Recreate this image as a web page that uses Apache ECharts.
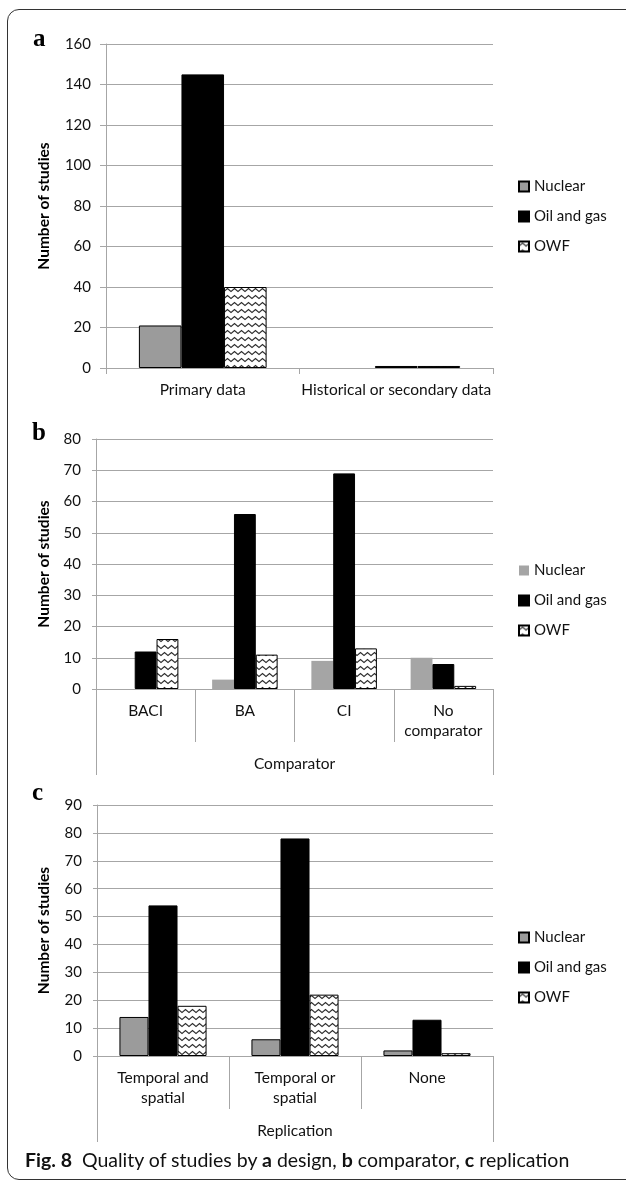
<!DOCTYPE html>
<html>
<head>
<meta charset="utf-8">
<script src="https://cdn.jsdelivr.net/npm/echarts@6/dist/echarts.min.js"></script>
<style>
html,body{margin:0;padding:0;background:#fff;width:626px;height:1181px;overflow:hidden;}
.frame{position:absolute;left:7px;top:9px;width:640px;height:1171px;border:1.3px solid #333;border-radius:12px;box-sizing:border-box;}
.chart{position:absolute;left:0;top:0;width:626px;height:1181px;}
#cap{position:absolute;left:25px;top:1149px;font-family:Lato,sans-serif;font-size:19.5px;line-height:22px;color:#111;white-space:nowrap;}
#cap b{font-weight:bold;}
</style>
</head>
<body>
<div class="frame"></div>
<div id="ca" class="chart"></div>
<div id="cb" class="chart"></div>
<div id="cc" class="chart"></div>
<div id="cap"><b>Fig. 8</b>&nbsp; Quality of studies by <b>a</b> design, <b>b</b> comparator, <b>c</b> replication</div>
<script>
// ---- data ----
const seriesNames = ['Nuclear', 'Oil and gas', 'OWF'];

const designCategories = ['Primary data', 'Historical or secondary data'];
const designNuclear = [21, 0];
const designOilGas = [145, 1];
const designOWF = [40, 1];
const designAxis = [0, 160, 20];

const comparatorCategories = ['BACI', 'BA', 'CI', 'No\ncomparator'];
const comparatorNuclear = [0, 3, 9, 10];
const comparatorOilGas = [12, 56, 69, 8];
const comparatorOWF = [16, 11, 13, 1];
const comparatorAxis = [0, 80, 10];
const comparatorGroup = ['Comparator'];

const replicationCategories = ['Temporal and\nspatial', 'Temporal or\nspatial', 'None'];
const replicationNuclear = [14, 6, 2];
const replicationOilGas = [54, 78, 13];
const replicationOWF = [18, 22, 1];
const replicationAxis = [0, 90, 10];
const replicationGroup = ['Replication'];

// ---- styles ----
function zigzag() {
  const c = document.createElement('canvas');
  c.width = 7; c.height = 7;
  const g = c.getContext('2d');
  g.fillStyle = '#fff'; g.fillRect(0, 0, 7, 7);
  g.strokeStyle = '#2e2e2e'; g.lineWidth = 1.2;
  g.beginPath(); g.moveTo(-0.5, 4.8); g.lineTo(3.5, 1.6); g.lineTo(7.5, 4.8); g.stroke();
  return c;
}
const owfFill = { image: zigzag(), repeat: 'repeat' };
const GRID = '#a6a6a6';
const FONT = 'Lato';
const TXT = '#111';

// zero-height bars get no outline, so nothing is drawn for them
function noZeroOutline(arr) {
  return arr.map(v => v === 0 ? { value: v, itemStyle: { borderWidth: 0 } } : v);
}

function panel(domId, p) {
  const chart = echarts.init(document.getElementById(domId), null, { renderer: 'canvas' });
  const xAxes = [{
    type: 'category', data: p.categories, gridIndex: 0, position: 'bottom',
    axisLine: { show: true, lineStyle: { color: GRID, width: 1 } },
    axisTick: { show: true, interval: 0, length: p.tickLen, lineStyle: { color: GRID } },
    axisLabel: { interval: 0, margin: 12, fontSize: 15.5, lineHeight: 20, color: TXT, fontFamily: FONT },
    splitLine: { show: false }
  }];
  if (p.group) {
    xAxes.push({
      type: 'category', data: p.group, gridIndex: 0, position: 'bottom',
      axisLine: { show: false },
      axisTick: { show: true, interval: 0, length: 86, lineStyle: { color: GRID } },
      axisLabel: { interval: 0, margin: 65, fontSize: 15.5, lineHeight: 20, color: TXT, fontFamily: FONT },
      splitLine: { show: false }
    });
  }
  const barCommon = { type: 'bar', xAxisIndex: 0, yAxisIndex: 0, barGap: 0, barCategoryGap: '34%' };
  chart.setOption({
    animation: false,
    textStyle: { fontFamily: FONT },
    title: {
      text: p.letter, left: p.letterX, top: p.letterY, padding: 0,
      textStyle: { fontFamily: 'Liberation Serif', fontWeight: 'bold', fontSize: 25, color: '#000' }
    },
    legend: {
      orient: 'vertical', left: 518, top: p.legendTop, padding: 0,
      itemWidth: 10, itemHeight: 10, itemGap: 15, icon: 'rect',
      textStyle: { fontSize: 15, color: TXT, fontFamily: FONT },
      data: seriesNames
    },
    grid: { left: p.left, top: p.top, width: p.width, height: p.height },
    xAxis: xAxes,
    yAxis: {
      type: 'value', min: p.axis[0], max: p.axis[1], interval: p.axis[2],
      name: 'Number of studies', nameLocation: 'middle', nameGap: p.nameGap,
      nameTextStyle: { fontSize: 15.5, fontWeight: 'bold', color: '#000', fontFamily: FONT },
      axisLine: { show: true, lineStyle: { color: GRID, width: 1 } },
      axisTick: { show: true, length: p.yTick, lineStyle: { color: GRID } },
      axisLabel: { margin: 15, fontSize: 15, color: TXT, fontFamily: FONT },
      splitLine: { show: true, lineStyle: { color: GRID, width: 1 } }
    },
    series: [
      Object.assign({ name: seriesNames[0], data: noZeroOutline(p.nuclear), itemStyle: p.nuclearStyle }, barCommon),
      Object.assign({ name: seriesNames[1], data: noZeroOutline(p.oil), itemStyle: { color: '#000', borderColor: '#000', borderWidth: 1 } }, barCommon),
      Object.assign({ name: seriesNames[2], data: noZeroOutline(p.owf), itemStyle: { color: owfFill, borderColor: '#000', borderWidth: 1 } }, barCommon)
    ]
  });
}

panel('ca', {
  letter: 'a', letterX: 33, letterY: 27,
  categories: designCategories, nuclear: designNuclear, oil: designOilGas, owf: designOWF,
  axis: designAxis, left: 106, top: 44, width: 387, height: 324,
  tickLen: 6, yTick: 6, nameGap: 54, legendTop: 179,
  nuclearStyle: { color: '#9b9b9b', borderColor: '#000', borderWidth: 1 }
});
panel('cb', {
  letter: 'b', letterX: 32, letterY: 421,
  categories: comparatorCategories, nuclear: comparatorNuclear, oil: comparatorOilGas, owf: comparatorOWF,
  group: comparatorGroup,
  axis: comparatorAxis, left: 96, top: 439, width: 397, height: 250,
  tickLen: 53, yTick: 4, nameGap: 44, legendTop: 563,
  nuclearStyle: { color: '#a5a5a5', borderWidth: 0 }
});
panel('cc', {
  letter: 'c', letterX: 32, letterY: 781,
  categories: replicationCategories, nuclear: replicationNuclear, oil: replicationOilGas, owf: replicationOWF,
  group: replicationGroup,
  axis: replicationAxis, left: 97, top: 805, width: 396, height: 251,
  tickLen: 53, yTick: 4, nameGap: 45, legendTop: 930,
  nuclearStyle: { color: '#9b9b9b', borderColor: '#000', borderWidth: 1 }
});
</script>
</body>
</html>
